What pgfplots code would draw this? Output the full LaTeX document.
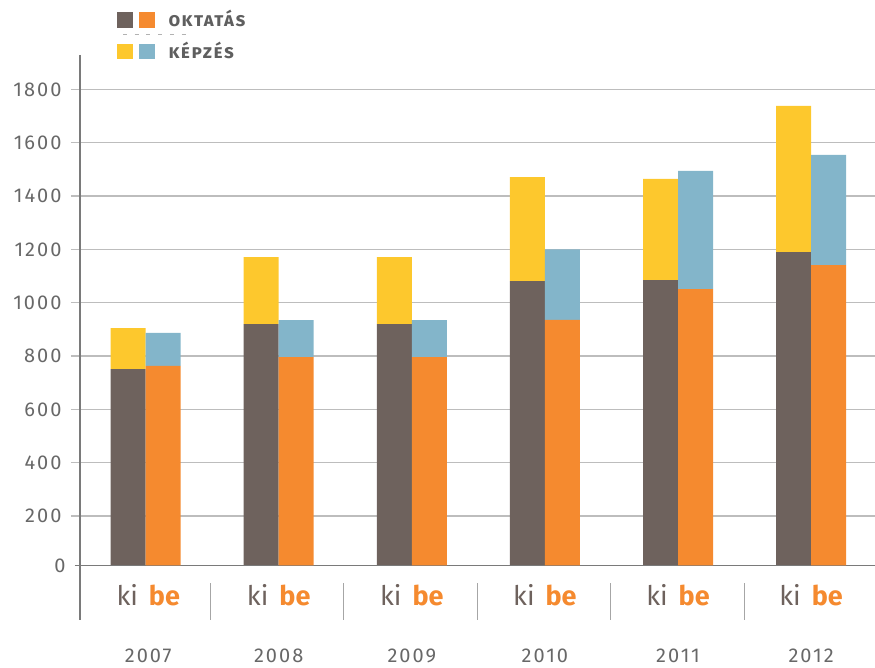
\documentclass[border=0pt]{standalone}
\usepackage{pgfplots}
\pgfplotsset{compat=1.18}
\usepackage{fontspec}
\setmainfont{Fira Sans}
\newfontfamily\lightfont{Fira Sans}[LetterSpace=10]
\definecolor{cbrown}{HTML}{6E625D}
\definecolor{corange}{HTML}{F58A2F}
\definecolor{cyellow}{HTML}{FDC82D}
\definecolor{cblue}{HTML}{83B5CA}
\definecolor{cgrid}{HTML}{BDBDBD}
\definecolor{caxis}{HTML}{7A7A7A}
\definecolor{ctext}{HTML}{5F5F5F}
\definecolor{cnum}{HTML}{686868}
\newcommand{\kibe}{{\fontsize{27}{27}\selectfont\textcolor{cbrown}{ki}\hspace{11pt}\textcolor{corange}{\bfseries be}}}
\newcommand{\yr}[1]{{\lightfont\fontsize{20}{20}\selectfont\color{cnum}#1}}
\pgfplotsset{common/.style={
  at={(0pt,0pt)}, anchor=south west,
  scale only axis, width=795pt, height=510.4pt,
  xmin=-0.493, xmax=5.48, ymin=15, ymax=1929,
  ybar stacked, bar width=35pt,
  clip mode=individual}}
\begin{document}
\begin{tikzpicture}
\begin{axis}[
  common,
  axis line style={draw=none},
  ytick={200,400,600,800,1000,1200,1400,1600,1800},
  yticklabels={200,400,600,800,1000,1200,1400,1600,1800},
  extra y ticks={15}, extra y tick labels={0},
  extra y tick style={major tick length=5pt, ytick style={caxis, line width=1.5pt}, major grid style={draw=none}},
  ymajorgrids, major grid style={cgrid, line width=1.3pt},
  ytick style={cgrid, line width=1.3pt}, major tick length=9pt, tick align=outside,
  yticklabel style={font=\lightfont\fontsize{20}{20}\selectfont, text=cnum, anchor=east, xshift=-6pt},
  xtick=\empty,
]
% ki: oktatás (brown) + képzés (yellow)
\addplot[fill=cbrown, draw=none, bar shift=-17.5pt] coordinates {(0,751) (1,920) (2,920) (3,1081) (4,1085) (5,1190)};
\addplot[fill=cyellow, draw=none, bar shift=-17.5pt] coordinates {(0,154) (1,251) (2,251) (3,390) (4,379) (5,548)};
% axis lines
\draw[caxis, line width=2pt] (rel axis cs:0,1) -- ([yshift=-54.6pt]rel axis cs:0,0);
% separators
\draw[black!35, line width=1pt] ([yshift=-17.6pt]axis cs:0.49,15) -- ([yshift=-54.6pt]axis cs:0.49,15);
\draw[black!35, line width=1pt] ([yshift=-17.6pt]axis cs:1.49,15) -- ([yshift=-54.6pt]axis cs:1.49,15);
\draw[black!35, line width=1pt] ([yshift=-17.6pt]axis cs:2.49,15) -- ([yshift=-54.6pt]axis cs:2.49,15);
\draw[black!35, line width=1pt] ([yshift=-17.6pt]axis cs:3.49,15) -- ([yshift=-54.6pt]axis cs:3.49,15);
\draw[black!35, line width=1pt] ([yshift=-17.6pt]axis cs:4.5,15) -- ([yshift=-54.6pt]axis cs:4.5,15);
% ki be labels
\node[anchor=base, yshift=-39.6pt, inner sep=0pt] at (axis cs:0.02,15) {\kibe};
\node[anchor=base, yshift=-39.6pt, inner sep=0pt] at (axis cs:1,15) {\kibe};
\node[anchor=base, yshift=-39.6pt, inner sep=0pt] at (axis cs:2,15) {\kibe};
\node[anchor=base, yshift=-39.6pt, inner sep=0pt] at (axis cs:3,15) {\kibe};
\node[anchor=base, yshift=-39.6pt, inner sep=0pt] at (axis cs:4,15) {\kibe};
\node[anchor=base, yshift=-39.6pt, inner sep=0pt] at (axis cs:5,15) {\kibe};
% years
\node[anchor=base, yshift=-96.8pt, inner sep=0pt] at (axis cs:0.02,15) {\yr{2007}};
\node[anchor=base, yshift=-96.8pt, inner sep=0pt] at (axis cs:1,15) {\yr{2008}};
\node[anchor=base, yshift=-96.8pt, inner sep=0pt] at (axis cs:2,15) {\yr{2009}};
\node[anchor=base, yshift=-96.8pt, inner sep=0pt] at (axis cs:3,15) {\yr{2010}};
\node[anchor=base, yshift=-96.8pt, inner sep=0pt] at (axis cs:4,15) {\yr{2011}};
\node[anchor=base, yshift=-96.8pt, inner sep=0pt] at (axis cs:5,15) {\yr{2012}};
\end{axis}
\begin{axis}[common, hide axis]
% be: oktatás (orange) + képzés (blue)
\addplot[fill=corange, draw=none, bar shift=17.5pt] coordinates {(0,763) (1,796) (2,796) (3,936) (4,1051) (5,1141)};
\addplot[fill=cblue, draw=none, bar shift=17.5pt] coordinates {(0,124) (1,139) (2,139) (3,264) (4,443) (5,413)};
\draw[caxis, line width=1.5pt] ([xshift=-5pt]rel axis cs:0,0) -- (rel axis cs:1,0);
\end{axis}
% legend
\fill[cbrown] (37.3pt,537.7pt) rectangle (52.7pt,553.1pt);
\fill[corange] (59.3pt,537.7pt) rectangle (74.7pt,553.1pt);
\fill[cyellow] (37.3pt,506.1pt) rectangle (52.7pt,521.4pt);
\fill[cblue] (59.3pt,506.1pt) rectangle (74.7pt,521.4pt);
\draw[black!30, line width=1pt, dash pattern=on 4pt off 7.7pt] (43pt,531.1pt) -- (112pt,531.1pt);
\node[anchor=base west, inner sep=0pt, text=ctext] at (88.3pt,538.7pt) {\fontsize{19}{19}\selectfont\bfseries\addfontfeature{Letters=SmallCaps,LetterSpace=8}oktatás};
\node[anchor=base west, inner sep=0pt, text=ctext] at (88.3pt,507.1pt) {\fontsize{19}{19}\selectfont\bfseries\addfontfeature{Letters=SmallCaps,LetterSpace=8}képzés};
\pgfresetboundingbox
\path[use as bounding box] (-80pt,-101.6pt) rectangle (795pt,565.4pt);
\end{tikzpicture}
\end{document}
